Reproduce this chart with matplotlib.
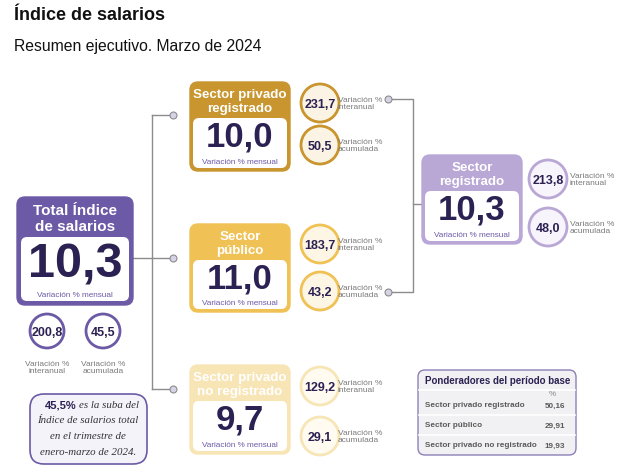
import matplotlib.pyplot as plt
from matplotlib.patches import FancyBboxPatch, Circle

# data
sectores = ["Sector privado\nregistrado", "Sector\npúblico", "Sector privado\nno registrado"]
mensual = ["10,0", "11,0", "9,7"]
interanual = ["231,7", "183,7", "129,2"]
acumulada = ["50,5", "43,2", "29,1"]

total_mensual = "10,3"
total_interanual = "200,8"
total_acumulada = "45,5"

reg_mensual = "10,3"
reg_interanual = "213,8"
reg_acumulada = "48,0"

pond_labels = ["Sector privado registrado", "Sector público", "Sector privado no registrado"]
pond_values = ["50,16", "29,91", "19,93"]

# colours
PURPLE = "#6c5aa6"
LAVENDER = "#b9a7d6"
NAVY = "#2b2152"
GRAY = "#7a7a7a"
LINE = "#8c8c8c"
head_cols = ["#c8952e", "#f0c154", "#f8e5b6"]
circ_fill = ["#fbf3e3", "#fdf6e4", "#fffbf1"]

plt.rcParams['font.family'] = ['Liberation Sans', 'DejaVu Sans']

fig = plt.figure(figsize=(6.26, 4.77), dpi=100)
ax = fig.add_axes([0, 0, 1, 1])
ax.set_xlim(0, 626)
ax.set_ylim(477, 0)
ax.axis('off')

ax.text(14, 16, "Índice de salarios", fontsize=13, fontweight='bold', va='center', color='#111111')
ax.text(14, 47, "Resumen ejecutivo. Marzo de 2024", fontsize=11.3, va='center', color='#111111')


def card(x0, y0, w, h, head_h, col, title, value, title_fs, value_fs, vfrac, border=3):
    outer = FancyBboxPatch((x0, y0), w, h, boxstyle="round,pad=0,rounding_size=8",
                           fc=col, ec=col, lw=1, zorder=2)
    ax.add_patch(outer)
    inner = FancyBboxPatch((x0 + border, y0 + head_h), w - 2 * border, h - head_h - border,
                           boxstyle="round,pad=0,rounding_size=6", fc='white', ec='none', zorder=3)
    ax.add_patch(inner)
    ax.text(x0 + w / 2, y0 + head_h / 2 + 1, title, ha='center', va='center', color='white',
            fontsize=title_fs, fontweight='bold', linespacing=1.2, zorder=4)
    body_top = y0 + head_h
    body_h = h - head_h - border
    ax.text(x0 + w / 2, body_top + body_h * vfrac, value, ha='center', va='center', color=NAVY,
            fontsize=value_fs, fontweight='bold', zorder=4)
    ax.text(x0 + w / 2, y0 + h - border - 6, "Variación % mensual", ha='center', va='center',
            color=PURPLE, fontsize=5.9, zorder=4)


def bubble(cx, cy, r, ec, fc, val, fs=9):
    ax.add_patch(Circle((cx, cy), r, fc=fc, ec=ec, lw=2, zorder=3))
    ax.text(cx, cy + 1, val, ha='center', va='center', color=NAVY, fontsize=fs,
            fontweight='bold', zorder=4)


def side_label(x, y, txt2):
    ax.text(x, y, "Variación %\n" + txt2, ha='left', va='center', color=GRAY,
            fontsize=6, linespacing=1.05, zorder=4)


# connectors
lk = dict(color=LINE, lw=1, zorder=1)
ax.plot([133, 152], [259, 259], **lk)
ax.plot([152, 152], [116, 390], **lk)
for yy in [116, 259, 390]:
    ax.plot([152, 173], [yy, yy], **lk)
    ax.plot(173, yy, 'o', ms=5, mfc='#d7d2e6', mec=LINE, mew=0.8, zorder=2)
ax.plot([388, 413, 413, 388], [100, 100, 293, 293], **lk)
ax.plot([413, 422], [205, 205], **lk)
for yy in [100, 293]:
    ax.plot(388, yy, 'o', ms=5, mfc='#d7d2e6', mec=LINE, mew=0.8, zorder=2)

# total card
card(17, 198, 116, 108, 40, PURPLE, "Total Índice\nde salarios", total_mensual, 11, 35, 0.42, border=4)
bubble(47, 332, 17, PURPLE, 'white', total_interanual)
bubble(103, 332, 17, PURPLE, 'white', total_acumulada)
ax.text(47, 368, "Variación %\ninteranual", ha='center', va='center', color=GRAY, fontsize=6,
        linespacing=1.05)
ax.text(103, 368, "Variación %\nacumulada", ha='center', va='center', color=GRAY, fontsize=6,
        linespacing=1.05)

# callout
ax.add_patch(FancyBboxPatch((30, 395), 117, 70, boxstyle="round,pad=0,rounding_size=14",
                            fc='#f5f3fa', ec=PURPLE, lw=1.2, zorder=2))
ax.text(45, 406, "45,5%", ha='left', va='center', color=NAVY, fontsize=8, fontweight='bold', zorder=4)
ax.text(79, 406, "es la suba del", ha='left', va='center', color='#333333', fontsize=7.8,
        family='Liberation Serif', style='italic', zorder=4)
for yy, t in zip([421, 437, 453], ["Índice de salarios total", "en el trimestre de", "enero-marzo de 2024."]):
    ax.text(88, yy, t, ha='center', va='center', color='#333333', fontsize=7.8,
            family='Liberation Serif', style='italic', zorder=4)

# sector cards
card_y = [83, 225, 366]
card_h = [89, 88, 89]
bub_y = [(104, 146), (245, 292), (387, 437)]
for i in range(3):
    card(190, card_y[i], 100, card_h[i], 36, head_cols[i], sectores[i], mensual[i], 9.6, 25, 0.37)
    b1, b2 = bub_y[i]
    bubble(320, b1, 19, head_cols[i], circ_fill[i], interanual[i])
    bubble(320, b2, 19, head_cols[i], circ_fill[i], acumulada[i])
    side_label(338, b1, "interanual")
    side_label(338, b2, "acumulada")

# sector registrado
card(422, 156, 100, 89, 36, LAVENDER, "Sector\nregistrado", reg_mensual, 9.6, 25, 0.37)
bubble(548, 180, 19, LAVENDER, '#f7f4fb', reg_interanual)
bubble(548, 228, 19, LAVENDER, '#f7f4fb', reg_acumulada)
side_label(570, 180, "interanual")
side_label(570, 228, "acumulada")

# table
ax.add_patch(FancyBboxPatch((418, 371), 158, 85, boxstyle="round,pad=0,rounding_size=7",
                            fc='#f1f1f3', ec='#8d80b8', lw=1, zorder=2))
ax.text(425, 381, "Ponderadores del período base", ha='left', va='center', color=NAVY,
        fontsize=7, fontweight='bold', zorder=4)
ax.plot([419, 575], [391, 391], color='white', lw=1.2, zorder=3)
ax.text(552, 395, "%", ha='center', va='center', color='#888888', fontsize=5.8, zorder=4)
row_y = [406, 426, 446]
for k in range(3):
    ax.text(425, row_y[k], pond_labels[k], ha='left', va='center', color='#5a5a5a',
            fontsize=5.9, fontweight='bold', zorder=4)
    ax.text(565, row_y[k], pond_values[k], ha='right', va='center', color='#5a5a5a',
            fontsize=5.9, fontweight='bold', zorder=4)
for yy in [416, 436]:
    ax.plot([419, 575], [yy, yy], color='white', lw=1.2, zorder=3)

fig.savefig('out.png', dpi=100)
